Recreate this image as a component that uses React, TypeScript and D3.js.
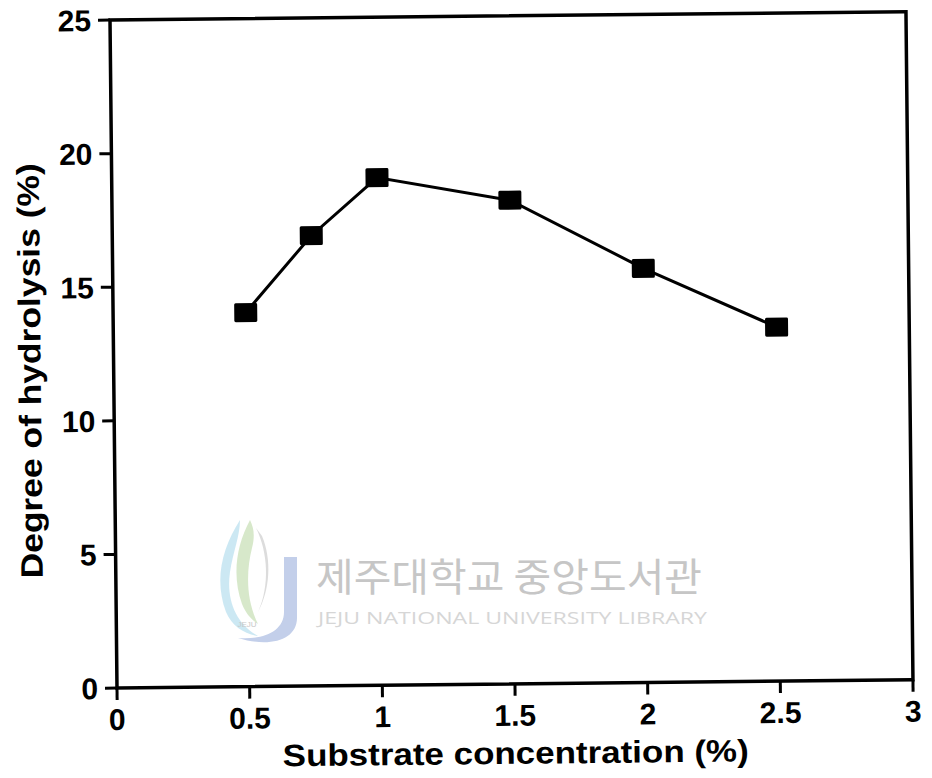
import React from "react";
import * as d3 from "d3";

// Degree of hydrolysis vs. substrate concentration
const concentrations = [0.5, 0.75, 1.0, 1.5, 2.0, 2.5];
const hydrolysis = [14.0, 16.85, 19.0, 18.1, 15.5, 13.25];
const xTicks = [0, 0.5, 1, 1.5, 2, 2.5, 3];
const yTicks = [0, 5, 10, 15, 20, 25];
const xTitle = "Substrate concentration (%)";
const yTitle = "Degree of hydrolysis (%)";
const markKo = "제주대학교 중앙도서관";
const markEn = "JEJU NATIONAL UNIVERSITY  LIBRARY";

const W = 932;
const H = 778;
const ox = 117; // plot origin (x = 0, y = 0)
const oy = 688;
const plotW = 796;
const plotH = 668;
const tilt = -0.6; // slight page tilt of the scanned figure

const FONT = "'Liberation Sans', Arial, Helvetica, sans-serif";

export default function App() {
  const x = d3.scaleLinear().domain([0, 3]).range([ox, ox + plotW]);
  const y = d3.scaleLinear().domain([0, 25]).range([oy, oy - plotH]);
  const pts = concentrations.map((c, i) => [x(c), y(hydrolysis[i])] as [number, number]);
  const line = d3.line<[number, number]>().x((d) => d[0]).y((d) => d[1]);
  const fmt = (v: number) => String(v);
  const tickLen = 12;
  const mw = 23;
  const mh = 19;

  return (
    <svg
      width={W}
      height={H}
      viewBox={`0 0 ${W} ${H}`}
      style={{ position: "absolute", left: 0, top: 0, background: "#fff" }}
    >
      <rect x={0} y={0} width={W} height={H} fill="#fff" />

      {/* faint library watermark */}
      <g>
        <path d="M284,557 L297,557 L297,618 C297,640 270,648 238,638 C262,640 284,632 284,612 Z" fill="#c3cfea" />
        <path d="M240,520 C222,548 214,580 226,612 C232,626 244,634 258,636 C236,624 226,600 230,572 C233,552 240,536 240,520 Z" fill="#bfe2f0" opacity={0.8} />
        <path d="M250,520 C236,546 232,576 242,604 C246,614 252,620 258,624 C246,600 246,572 252,548 C255,536 254,528 250,520 Z" fill="#d3e6c4" opacity={0.9} />
        <path d="M256,528 C268,552 270,586 258,612 C270,590 272,560 262,536 Z" fill="#dcdcdc" />
        <text x={247} y={627} fontSize={8} fontFamily={FONT} fill="#c8c8c8" textAnchor="middle">JEJU</text>
        <text
          x={316}
          y={591}
          fontSize={39}
          fontFamily="'Noto Sans CJK KR', sans-serif"
          fill="#c6c6c6"
          textLength={386}
          lengthAdjust="spacingAndGlyphs"
        >
          {markKo}
        </text>
        <text
          x={318}
          y={624}
          fontSize={16}
          fontFamily="'Open Sans', 'Noto Sans', sans-serif"
          fill="#d6d6d6"
          textLength={389}
          lengthAdjust="spacingAndGlyphs"
        >
          {markEn}
        </text>
      </g>

      <g transform={`rotate(${tilt}, ${ox}, ${oy})`} fontFamily={FONT} fontWeight={700} fill="#000">
        {/* frame */}
        <rect x={ox} y={oy - plotH} width={plotW} height={plotH} fill="none" stroke="#000" strokeWidth={3.5} />

        {/* y axis ticks and labels */}
        {yTicks.map((t) => (
          <g key={`y${t}`}>
            <line x1={ox - tickLen} x2={ox} y1={y(t)} y2={y(t)} stroke="#000" strokeWidth={3} />
            <text x={ox - 19} y={y(t)} dy="0.36em" textAnchor="end" fontSize={30}>
              {fmt(t)}
            </text>
          </g>
        ))}

        {/* x axis ticks and labels */}
        {xTicks.map((t) => (
          <g key={`x${t}`}>
            <line x1={x(t)} x2={x(t)} y1={oy} y2={oy + tickLen} stroke="#000" strokeWidth={3} />
            <text x={x(t)} y={oy + 42} textAnchor="middle" fontSize={30}>
              {fmt(t)}
            </text>
          </g>
        ))}

        {/* axis titles */}
        <text x={282} y={oy + 80} fontSize={31} textLength={466} lengthAdjust="spacingAndGlyphs">
          {xTitle}
        </text>
        <text
          transform={`translate(44, ${oy - 318}) rotate(-90)`}
          textAnchor="middle"
          fontSize={31}
          textLength={415}
          lengthAdjust="spacingAndGlyphs"
        >
          {yTitle}
        </text>

        {/* data */}
        <path d={line(pts) ?? ""} fill="none" stroke="#000" strokeWidth={3} />
        {pts.map((p, i) => (
          <rect key={i} x={p[0] - mw / 2} y={p[1] - mh / 2} width={mw} height={mh} rx={1.5} fill="#000" />
        ))}
      </g>
    </svg>
  );
}
